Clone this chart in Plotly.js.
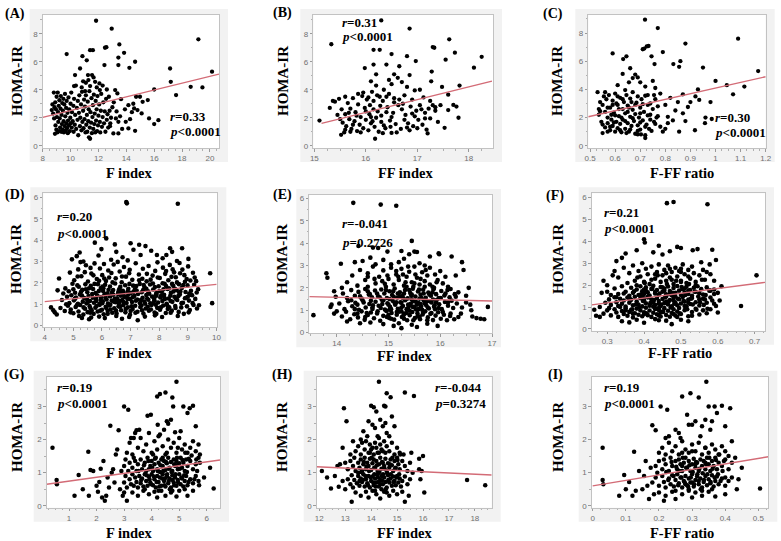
<!DOCTYPE html>
<html><head><meta charset="utf-8">
<script src="https://cdn.plot.ly/plotly-3.0.1.min.js"></script>
<style>html,body{margin:0;padding:0;background:#fff}#chart{width:781px;height:541px}</style>
</head><body><div id="chart"></div>
<script>
// ---------- DATA ----------
const ptsA = [
[11.83,8.93],[12.95,8.36],[19.17,7.6],[13.5,7.24],[12.47,7.0],[12.57,7.04],[13.84,6.64],[11.4,6.83],[11.6,6.83],[9.72,6.55],[10.85,6.4],[11.16,6.1],[13.43,6.3],[14.63,6.0],[10.68,5.52],[12.43,5.76],[13.43,5.76],[14.22,5.57],[17.14,5.52],[20.15,5.29],[17.19,4.57],[16.0,4.02],[17.57,3.62],[18.62,4.21],[19.46,4.17],[10.32,5.05],[11.25,5.05],[11.54,5.05],
[11.28,4.69],[11.76,4.57],[12.07,4.45],[11.88,4.17],[11.4,4.26],[10.8,4.17],[10.25,4.26],[12.1,3.98],[12.6,4.02],[11.04,3.9],[11.65,4.88],[11.1,4.5],[10.9,4.6],[12.3,4.3],
[13.2,3.98],[13.36,3.74],[13.62,3.33],[14.15,2.9],[14.5,3.0],[14.56,2.67],[14.7,3.5],[14.98,3.5],[15.1,2.31],[15.17,3.14],[15.54,3.26],[15.63,1.95],[16.0,1.55],[16.3,1.83],[14.63,1.07],[14.15,1.24],[14.27,1.9],[13.96,1.71],[13.43,0.88],[13.07,0.88],[12.83,1.4],[13.43,1.71],[14.4,2.4],[14.8,2.55],[13.9,2.6],[13.3,2.45],[13.7,1.2],[13.1,3.1],[13.0,2.75],[13.55,2.1],[12.9,2.0],[12.75,3.5],[13.25,1.95],
[8.65,2.55],[8.7,2.95],[8.75,2.3],[8.8,3.8],[8.82,1.95],[8.85,2.75],[8.88,0.85],[8.9,3.1],[8.92,1.45],[8.95,2.6],[8.98,1.15],[9.0,3.5],[9.02,2.05],[9.05,0.95],[9.08,3.8],[9.1,2.4],[9.12,1.7],[9.15,2.85],[9.18,1.05],[9.2,3.25],[9.22,1.95],[9.25,1.3],[9.28,2.65],[9.3,3.55],[9.33,1.0],[9.35,2.2],[9.38,1.55],[9.4,3.05],[9.42,1.15],[9.45,2.5],[9.48,3.35],[9.5,1.75],[9.52,0.95],[9.55,2.95],[9.58,1.4],[9.6,3.7],[9.62,2.1],[9.65,1.1],[9.68,2.7],[9.7,1.6],[9.72,3.2],[9.75,1.25],[9.78,2.35],[9.8,0.9],[9.82,1.8],[9.85,3.45],[9.88,1.45],[9.9,2.6],[9.95,1.05],[9.98,2.0],[10.0,3.0],[10.02,1.6],[10.05,3.8],[10.08,1.3],[10.1,2.4],[10.15,1.75],[10.2,2.85],[10.22,1.0],[10.25,3.35],[10.3,1.5],[10.33,2.2],[10.38,4.3],[10.4,1.2],[10.45,2.7],[10.5,1.85],[10.52,3.2],[10.55,0.75],[10.6,2.35],[10.63,3.6],[10.67,1.4],[10.7,2.0],[10.75,2.95],[10.78,1.1],[10.82,3.85],[10.85,1.7],[10.9,2.5],[10.93,1.25],[10.97,3.3],[11.0,1.9],[11.03,2.8],[11.07,0.95],[11.1,3.6],[11.13,1.5],[11.17,2.2],[11.2,1.0],[11.23,3.15],[11.27,1.75],[11.3,2.6],[11.32,0.6],[11.35,3.9],[11.38,1.3],[11.4,0.5],[11.43,2.4],[11.47,1.65],[11.5,3.4],[11.53,0.9],[11.57,2.05],[11.6,2.9],[11.63,1.2],[11.67,3.65],[11.7,1.55],[11.73,2.3],[11.77,0.95],[11.8,3.2],[11.83,1.8],[11.87,2.6],[11.9,1.05],[11.93,3.55],[11.97,1.45],[12.0,2.15],[12.05,2.95],[12.1,1.7],[12.13,0.95],[12.17,2.5],[12.2,3.7],[12.25,1.35],[12.3,2.05],[12.35,3.1],[12.4,1.6],[12.45,2.45],[12.5,1.0],[12.55,3.35],[12.6,1.85],[12.65,2.25],[12.7,1.3],[12.8,2.5],[12.85,1.6]
];
const ptsB = [
[16.3,8.95],[16.85,8.37],[15.33,7.25],[17.62,7.6],[17.3,7.05],[17.33,7.0],[17.73,6.65],[16.15,6.85],[16.27,6.85],[16.5,6.55],[16.8,6.4],[16.65,5.68],[17.55,6.15],[18.25,6.35],[18.1,5.58],[15.98,5.55],[16.15,5.8],[16.4,5.8],[16.97,6.05],[16.2,5.1],[16.55,5.1],[16.62,4.85],[16.85,5.05],[17.28,5.3],[17.27,4.6],[17.48,4.2],[17.6,3.65],[17.82,4.3],[17.7,2.92],[17.76,2.8],[17.8,2.0],[17.53,1.28],[17.2,0.88],[16.18,0.5],[15.52,0.78],[15.1,1.8],[15.4,3.15],[15.3,2.7],[15.36,3.2],[15.48,3.35],
[16.1,4.6],[16.2,4.3],[16.35,4.0],[16.45,4.7],[16.5,4.4],[16.7,4.55],[16.8,4.2],[16.95,3.95],[17.05,4.0],[17.25,3.2],[17.3,2.9],[17.35,2.5],[17.4,1.7],[17.25,1.95],[17.15,2.35],[17.1,1.5],[17.05,2.9],[16.95,2.1],[16.9,3.3],[16.85,1.1],[16.8,1.3],[16.75,3.6],[16.7,2.6],[16.6,0.95],[16.55,3.1],[16.5,2.05],[16.5,0.92],[16.45,3.7],[16.4,2.4],[16.38,1.25],[16.33,3.2],[16.3,1.7],[16.28,2.85],[16.25,1.0],[16.22,3.6],[16.2,2.0],[16.17,1.35],[16.15,2.6],[16.12,3.85],[16.1,1.6],[16.07,2.25],[16.05,1.1],[16.02,3.3],[16.0,1.85],[15.98,2.7],[15.95,1.25],[15.93,3.55],[15.9,2.05],[15.88,1.5],[15.85,2.95],[15.83,1.05],[15.8,2.4],[15.78,1.75],[15.75,3.4],[15.72,1.2],[15.7,2.65],[15.68,1.9],[15.65,3.05],[15.62,1.4],[15.6,2.25],[15.58,0.95],[15.55,1.65],[15.53,2.6],[15.5,1.9],[15.6,3.5],[15.7,1.0],[15.85,3.7],[15.95,3.8],[16.0,2.45],[16.08,2.9],[16.13,1.75],[16.23,2.45],[16.27,3.5],[16.35,1.45],[16.42,2.75],[16.47,1.8],[16.53,2.35],[16.58,1.55],[16.63,2.9],[16.68,1.2],[16.72,3.0],[16.77,2.2],[16.82,1.6],[16.87,2.8],[16.92,1.4],[16.98,2.5],[17.02,1.85],[17.08,2.6],[17.12,3.45],[17.18,1.15],[17.22,2.65],[15.45,2.2],[15.6,1.15],[15.75,1.5],[15.9,0.95],[16.05,3.45],[16.15,3.2],[16.3,2.15],[16.4,3.5],[16.55,3.4],[16.65,3.3],[16.75,1.85],[16.9,2.3],[17.0,1.25],[17.35,2.75],[17.45,2.9],[17.6,2.55],[17.15,1.95],[16.48,1.35],[16.33,0.9],[16.1,2.05],[15.82,2.15],[15.67,2.35]
];
const ptsC = [
[0.719,8.95],[0.77,8.35],[1.09,7.6],[0.88,7.25],[0.71,6.85],[0.716,6.9],[0.726,7.05],[0.733,7.08],[0.79,6.65],[0.59,6.55],[0.645,6.35],[0.632,6.15],[0.745,6.35],[0.757,5.8],[0.832,5.8],[0.86,6.0],[0.855,5.6],[0.95,5.55],[1.17,5.3],[1.0,4.6],[1.045,4.3],[1.115,4.2],[1.07,3.65],[0.93,4.0],[0.92,3.5],[0.935,3.25],[0.985,1.9],[0.958,1.6],[0.918,1.1],[0.87,2.3],[0.855,1.0],[0.79,1.0],[0.8,1.2],[0.72,0.55],[0.703,0.8],[0.69,0.8],
[0.82,3.4],[0.84,2.5],[0.85,3.1],[0.87,3.65],[0.89,2.75],[0.9,3.1],[0.88,1.75],[0.83,1.8],[0.81,2.05],[0.8,2.9],[0.78,3.7],[0.77,2.1],[0.76,4.1],[0.75,4.6],[0.74,3.0],[0.74,2.2],[0.76,1.55],[0.78,1.35],[0.81,1.6],[0.96,2.0],[0.98,3.1],[0.72,4.2],[0.7,4.5],[0.68,5.05],[0.69,4.85],[0.66,5.5],[0.63,5.1],[0.655,4.5],[0.67,4.8],[0.61,4.3],[0.64,3.95],
[0.53,3.8],[0.535,2.6],[0.54,3.1],[0.535,2.2],[0.545,1.7],[0.55,0.9],[0.55,2.9],[0.555,3.5],[0.56,1.3],[0.56,2.4],[0.565,3.3],[0.57,1.6],[0.57,2.0],[0.575,3.6],[0.58,1.1],[0.58,2.7],[0.585,1.85],[0.59,3.2],[0.59,1.4],[0.595,2.35],[0.6,1.0],[0.6,3.7],[0.605,1.7],[0.61,2.9],[0.61,1.25],[0.615,2.1],[0.62,3.4],[0.62,1.55],[0.625,0.95],[0.63,2.6],[0.63,1.85],[0.635,3.1],[0.64,1.2],[0.64,2.3],[0.645,3.6],[0.65,1.6],[0.65,2.85],[0.655,1.0],[0.66,2.05],[0.66,3.35],[0.665,1.4],[0.67,2.55],[0.67,3.8],[0.675,1.75],[0.68,0.85],[0.68,2.25],[0.685,3.05],[0.69,1.45],[0.69,3.5],[0.695,2.0],[0.7,2.7],[0.7,1.15],[0.705,3.3],[0.71,1.8],[0.715,2.4],[0.72,0.75],[0.72,3.55],[0.725,1.5],[0.73,2.15],[0.73,2.9],[0.735,1.2],[0.74,1.85],[0.75,2.6],[0.755,1.7],[0.76,3.3],[0.765,2.0],[0.77,2.8],[0.54,2.45],[0.55,1.5],[0.56,3.8],[0.57,2.7],[0.58,1.35],[0.59,2.9],[0.6,2.15],[0.61,3.5],[0.62,1.1],[0.63,3.3],[0.64,1.75],[0.65,2.4],[0.66,1.15],[0.67,1.95],[0.68,2.9],[0.69,1.05],[0.7,1.65],[0.71,2.95],[0.72,1.35],[0.73,3.6],[0.57,1.0],[0.595,1.65],[0.615,2.6],[0.645,0.9],[0.665,3.1],[0.7,2.3],[0.745,1.05],[0.755,3.6],[0.585,2.2],[0.605,3.0],[0.625,2.0],[0.655,2.7]
];
const ptsD = [
[6.85,5.78],[6.87,5.72],[8.65,5.7],[9.78,2.45],[9.85,1.05],[4.22,0.85],[4.35,0.62],[4.45,1.65],[4.5,2.2],[4.42,0.52],[4.3,0.72],
[5.75,3.88],[6.15,4.08],[6.45,3.8],[7.3,3.78],[7.52,3.72],[5.98,3.58],[7.1,3.55],[8.38,3.62],[8.8,3.62],[7.72,3.5],[5.22,3.42],[4.95,3.1],[5.12,3.25],[6.72,3.2],[7.35,3.3],[8.45,3.45],[9.02,3.12],[7.92,3.3],[6.32,3.08],[5.88,3.28],[8.12,3.15],[5.35,3.0],[6.9,3.05],[8.62,3.02],[6.5,3.45],[8.25,3.3],[7.0,3.85],
[4.88,2.48],[5.03,2.12],[5.17,2.63],[5.28,2.31],[5.44,2.82],[5.51,2.06],[5.63,2.44],[5.74,2.91],[5.82,2.18],[5.93,2.67],[6.01,2.36],[6.07,2.88],[6.14,2.09],[6.22,2.58],[6.33,2.46],[6.41,2.86],[6.48,2.21],[6.62,2.53],[6.69,2.03],[6.77,2.74],[6.84,2.29],[6.97,2.61],[7.06,2.14],[7.18,2.92],[7.29,2.39],[7.43,2.66],[7.56,2.07],[7.63,2.79],[7.77,2.34],[7.86,2.56],[7.94,2.96],[8.02,2.23],[8.13,2.71],[8.21,2.42],[8.32,2.12],[8.37,2.84],[8.52,2.49],[8.58,2.26],[8.71,2.93],[8.81,2.62],[8.88,2.36],[9.01,2.77],[9.09,2.11],[9.18,2.47],[5.25,2.97],[6.55,2.98],[7.41,2.19],[8.47,2.63],[5.9,2.1],[6.25,2.25],[6.95,2.45],[7.7,2.15],[8.9,2.05],[5.6,2.7],
[4.72,1.74],[4.84,1.61],[4.97,1.96],[5.06,1.54],[5.19,1.82],[5.31,1.67],[5.42,1.93],[5.49,1.56],[5.61,1.86],[5.69,1.71],[5.78,1.52],[5.86,1.94],[5.96,1.76],[6.04,1.62],[6.11,1.91],[6.19,1.51],[6.28,1.83],[6.39,1.66],[6.46,1.97],[6.57,1.57],[6.64,1.81],[6.73,1.63],[6.81,1.89],[6.92,1.72],[7.01,1.53],[7.09,1.87],[7.21,1.64],[7.32,1.95],[7.39,1.56],[7.49,1.79],[7.61,1.61],[7.68,1.92],[7.79,1.69],[7.91,1.52],[7.98,1.84],[8.09,1.58],[8.19,1.96],[8.29,1.71],[8.41,1.54],[8.49,1.86],[8.61,1.66],[8.69,1.94],[8.79,1.76],[8.92,1.57],[8.99,1.88],[9.11,1.63],[9.22,1.91],[9.36,1.7],[9.29,2.08],[5.14,1.88],[6.02,1.83],[6.68,1.54],[7.46,1.9],[8.24,1.85],[8.74,1.59],[5.55,1.75],[6.35,1.55],[7.15,1.7],[7.85,1.8],[8.55,1.72],[9.05,1.5],
[4.6,1.2],[4.78,1.35],[4.86,1.05],[4.93,1.42],[5.02,1.18],[5.09,1.31],[5.16,1.02],[5.23,1.46],[5.33,1.12],[5.38,1.29],[5.46,1.04],[5.53,1.38],[5.58,1.15],[5.66,1.48],[5.72,1.07],[5.79,1.26],[5.84,1.41],[5.91,1.01],[5.97,1.33],[6.03,1.14],[6.09,1.47],[6.16,1.22],[6.21,1.03],[6.27,1.37],[6.34,1.17],[6.4,1.44],[6.47,1.09],[6.53,1.28],[6.59,1.02],[6.66,1.4],[6.71,1.19],[6.78,1.34],[6.86,1.06],[6.93,1.45],[6.99,1.24],[7.05,1.1],[7.13,1.39],[7.19,1.16],[7.26,1.48],[7.33,1.05],[7.42,1.3],[7.48,1.13],[7.55,1.43],[7.62,1.21],[7.69,1.04],[7.75,1.36],[7.83,1.18],[7.89,1.47],[7.96,1.08],[8.04,1.32],[8.11,1.15],[8.17,1.44],[8.26,1.02],[8.33,1.27],[8.39,1.4],[8.46,1.11],[8.53,1.35],[8.63,1.2],[8.72,1.46],[8.83,1.07],[8.94,1.3],[9.04,1.17],[9.15,1.42],[9.26,1.25],[5.48,1.22],[6.12,1.3],[6.62,1.15],[7.08,1.33],[7.58,1.27],[8.07,1.41],[8.58,1.26],[5.95,1.2],[6.45,1.25],[6.85,1.36],[7.36,1.2],[7.8,1.05],[8.2,1.25],[5.3,1.4],[6.75,1.1],
[4.55,0.82],[4.7,0.68],[4.81,0.93],[4.91,0.75],[5.0,0.58],[5.08,0.87],[5.18,0.66],[5.24,0.96],[5.35,0.52],[5.41,0.79],[5.5,0.63],[5.57,0.91],[5.64,0.71],[5.71,0.55],[5.77,0.84],[5.85,0.66],[5.92,0.97],[6.0,0.74],[6.06,0.53],[6.13,0.88],[6.2,0.69],[6.26,0.94],[6.36,0.6],[6.43,0.81],[6.51,0.57],[6.58,0.9],[6.67,0.72],[6.74,0.95],[6.82,0.62],[6.9,0.85],[6.98,0.51],[7.07,0.78],[7.16,0.93],[7.24,0.65],[7.34,0.87],[7.45,0.56],[7.53,0.8],[7.64,0.7],[7.73,0.96],[7.84,0.61],[7.93,0.83],[8.03,0.74],[8.14,0.94],[8.23,0.59],[8.35,0.86],[8.44,0.7],[8.56,0.92],[8.68,0.64],[8.77,0.85],[8.86,0.55],[8.97,0.9],[9.07,0.73],[9.2,0.96],[9.32,0.8],[5.6,0.8],[6.3,0.75],[7.0,0.68],[7.6,0.88],[8.3,0.78],[5.2,0.45],
[5.55,0.3],[5.62,0.38],[5.9,0.42],[6.1,0.35],[6.5,0.45],[6.95,0.4],[7.25,0.25],[7.5,0.42],[7.85,0.48],[8.1,0.4],[8.65,0.45],[5.3,0.36],[6.7,0.32],
[5.05,1.25],[5.12,0.95],[5.27,1.58],[5.36,0.85],[5.44,1.7],[5.52,1.12],[5.59,0.6],[5.68,1.3],[5.74,1.95],[5.81,0.92],[5.89,1.62],[5.94,0.7],[6.01,1.05],[6.08,2.2],[6.15,0.82],[6.23,1.68],[6.29,0.98],[6.37,2.02],[6.42,1.12],[6.49,0.7],[6.56,1.48],[6.63,0.88],[6.7,2.3],[6.76,1.52],[6.83,0.78],[6.89,1.25],[6.96,1.95],[7.03,0.9],[7.11,1.58],[7.17,0.6],[7.23,1.22],[7.3,2.12],[7.38,0.94],[7.44,1.66],[7.51,1.02],[7.57,2.42],[7.65,1.49],[7.71,0.75],[7.78,1.97],[7.82,1.28],[7.88,0.98],[7.95,2.25],[8.01,1.62],[8.06,0.86],[8.12,1.98],[8.18,1.3],[8.24,2.55],[8.28,0.95],[8.34,1.75],[8.4,1.15],[8.43,2.28],[8.5,1.6],[8.57,0.82],[8.62,2.02],[8.67,1.38],[8.73,2.45],[8.78,1.05],[8.84,1.9],[8.9,1.28],[8.96,2.18],[9.03,0.62],[9.1,1.45],[9.17,1.05],[9.24,2.25],[9.31,1.55],[9.39,0.95],[5.0,1.7],[5.15,2.3],[5.4,2.5],[5.7,2.35],[6.05,1.75],[6.3,1.38],[6.6,1.7],[6.9,1.6],[7.2,1.85],[7.55,1.72],[7.9,1.4],[8.15,1.7],[8.45,1.95],[8.7,1.55],[9.0,1.35],[4.75,1.0],[4.9,0.62],[4.65,1.5],[7.4,0.72],[7.9,0.55],[8.4,0.6],[6.2,0.55],[5.8,1.15],[6.55,1.12]
];
const ptsE = [
[14.32,5.8],[14.85,5.72],[15.15,5.67],[14.42,3.87],[14.7,3.8],[14.8,3.78],[15.45,4.1],[14.08,3.08],[13.8,2.65],[13.82,2.45],[13.55,0.78],[16.92,1.15],[16.85,0.6],[16.78,0.62],[16.7,0.65],[16.62,0.72],[16.58,1.25],[16.5,1.35],[16.45,2.8],[16.42,3.15],[16.22,3.4],[15.97,3.55],[15.55,3.6],[15.5,3.62],[15.25,3.65],[14.98,3.62],[13.9,1.25],[13.95,1.85],[14.0,0.95],[16.3,2.55],[16.55,2.0],[16.5,1.65],[16.35,1.8],[16.2,1.95],[16.25,1.1],[16.4,0.85],[16.6,1.0],
[14.5,3.2],[14.65,3.35],[14.9,3.25],[15.05,3.05],[15.3,3.3],[15.6,3.1],[15.8,3.4],[15.98,3.5],[15.4,3.5],[14.35,3.15],[15.7,3.0],[14.75,3.05],[15.2,3.15],
[14.2,2.25],[14.3,2.55],[14.4,2.1],[14.45,2.8],[14.55,2.35],[14.6,2.65],[14.7,2.95],[14.75,2.2],[14.82,2.5],[14.9,2.78],[14.95,2.05],[15.0,2.4],[15.05,2.9],[15.1,2.15],[15.15,2.6],[15.2,2.35],[15.25,2.85],[15.3,2.1],[15.35,2.5],[15.4,2.72],[15.45,2.25],[15.5,2.95],[15.55,2.45],[15.6,2.15],[15.65,2.7],[15.7,2.3],[15.75,2.55],[15.8,2.9],[15.85,2.05],[15.9,2.6],[15.95,2.35],[16.0,2.75],[16.05,2.2],[16.1,2.5],[16.15,2.05],[14.1,2.0],[14.6,2.05],[15.28,2.6],[15.48,2.05],[14.98,2.55],[15.72,2.8],[15.38,2.95],[14.88,2.3],
[13.98,1.6],[14.12,1.75],[14.2,1.55],[14.28,1.9],[14.35,1.65],[14.42,1.82],[14.48,1.52],[14.55,1.95],[14.62,1.7],[14.68,1.58],[14.74,1.88],[14.8,1.62],[14.86,1.93],[14.92,1.75],[14.97,1.55],[15.02,1.85],[15.07,1.68],[15.12,1.97],[15.17,1.57],[15.22,1.8],[15.27,1.64],[15.32,1.9],[15.37,1.53],[15.42,1.77],[15.47,1.96],[15.52,1.61],[15.57,1.84],[15.62,1.7],[15.67,1.92],[15.72,1.56],[15.77,1.79],[15.82,1.65],[15.87,1.94],[15.92,1.72],[15.97,1.54],[16.02,1.86],[16.08,1.66],[16.14,1.9],[16.18,1.58],[16.28,1.72],[14.6,1.85],[15.1,1.6],[15.45,1.7],[15.85,1.8],[14.95,1.9],[15.3,1.75],[15.6,1.52],
[13.88,1.15],[14.05,1.3],[14.15,1.05],[14.22,1.4],[14.3,1.18],[14.36,1.33],[14.43,1.02],[14.5,1.45],[14.56,1.12],[14.63,1.28],[14.69,1.06],[14.75,1.38],[14.81,1.2],[14.87,1.47],[14.93,1.03],[14.98,1.31],[15.03,1.15],[15.08,1.42],[15.13,1.25],[15.18,1.07],[15.23,1.36],[15.28,1.19],[15.33,1.48],[15.38,1.1],[15.43,1.29],[15.48,1.4],[15.53,1.04],[15.58,1.32],[15.63,1.17],[15.68,1.44],[15.73,1.22],[15.78,1.08],[15.83,1.35],[15.88,1.16],[15.93,1.46],[15.98,1.27],[16.03,1.05],[16.09,1.37],[16.15,1.2],[16.22,1.43],[16.32,1.3],[16.42,1.12],[14.7,1.22],[15.0,1.25],[15.25,1.33],[15.4,1.2],[15.55,1.25],[15.7,1.3],[15.9,1.05],[14.4,1.25],[15.15,1.35],[15.35,1.05],[15.65,1.02],[15.8,1.4],[14.85,1.1],[15.5,1.15],
[13.95,0.85],[14.1,0.72],[14.18,0.93],[14.26,0.6],[14.34,0.82],[14.41,0.68],[14.48,0.95],[14.54,0.57],[14.6,0.79],[14.66,0.9],[14.72,0.64],[14.78,0.86],[14.84,0.53],[14.9,0.75],[14.96,0.97],[15.01,0.66],[15.06,0.88],[15.11,0.58],[15.16,0.8],[15.21,0.94],[15.26,0.7],[15.31,0.85],[15.36,0.55],[15.41,0.78],[15.46,0.92],[15.51,0.65],[15.56,0.87],[15.61,0.6],[15.66,0.81],[15.71,0.95],[15.76,0.68],[15.81,0.84],[15.86,0.56],[15.91,0.76],[15.96,0.91],[16.01,0.62],[16.07,0.8],[16.13,0.55],[16.19,0.74],[16.27,0.6],[16.35,0.7],[14.2,0.5],[15.3,0.62],[15.6,0.72],[15.0,0.8],
[14.65,0.45],[14.9,0.38],[15.1,0.3],[15.2,0.42],[15.45,0.35],[15.55,0.25],[15.75,0.4],[15.95,0.3],[15.25,0.2],[14.45,0.42],
[14.52,1.35],[14.58,0.88],[14.64,1.72],[14.69,1.12],[14.73,2.4],[14.79,0.95],[14.83,1.58],[14.88,1.28],[14.93,2.18],[14.97,0.7],[15.02,1.5],[15.05,1.05],[15.09,1.85],[15.12,1.32],[15.16,0.92],[15.19,2.5],[15.22,1.62],[15.25,1.12],[15.29,0.78],[15.32,1.45],[15.35,2.05],[15.38,1.25],[15.41,0.98],[15.44,1.65],[15.47,1.15],[15.5,2.2],[15.53,1.38],[15.56,0.72],[15.59,1.92],[15.62,1.28],[15.64,1.55],[15.67,0.9],[15.7,2.05],[15.73,1.38],[15.76,1.12],[15.79,1.7],[15.83,0.88],[15.86,1.48],[15.89,1.22],[15.93,2.25],[15.97,1.1],[16.01,1.55],[16.05,0.92],[16.1,1.75],[14.45,1.62],[14.35,1.05],[14.28,1.45],[14.6,2.5],[15.15,2.75],[15.4,1.9],[15.8,2.15],[16.2,0.85],[15.05,0.62],[15.35,0.88],[15.58,1.05],[15.28,1.55],[14.9,1.45],[15.48,0.55],[15.75,0.55],[15.92,1.35],[14.66,1.42],[15.18,1.75],[15.45,1.48],[15.68,1.75],[15.02,1.02],[14.78,1.75],[15.33,2.25],[15.52,2.6],[15.25,0.95],[15.62,2.4],[15.88,2.0],[14.55,0.7],[14.4,0.85],[16.15,1.35],[16.3,1.6]
];
const ptsF = [
[0.462,5.75],[0.48,5.8],[0.572,5.7],[0.705,2.45],[0.663,1.05],[0.4,4.1],[0.402,3.95],[0.44,3.8],[0.49,3.75],[0.5,3.7],[0.532,3.6],[0.585,3.62],[0.595,3.15],[0.38,3.6],[0.27,0.6],[0.28,0.55],[0.265,0.88],[0.285,1.65],[0.29,2.2],[0.3,2.0],[0.305,0.95],[0.315,2.45],[0.325,3.1],[0.34,3.25],[0.35,3.45],[0.32,2.65],[0.61,1.95],[0.6,1.65],[0.605,1.3],[0.6,0.75],[0.595,1.05],[0.578,2.95],[0.57,2.6],[0.555,3.05],[0.545,3.65],[0.47,3.55],[0.425,3.5],[0.45,3.4],
[0.33,2.35],[0.345,2.8],[0.355,2.1],[0.36,2.55],[0.37,2.9],[0.375,2.2],[0.385,2.65],[0.39,2.4],[0.395,3.0],[0.4,2.15],[0.405,2.75],[0.41,2.5],[0.415,2.05],[0.42,2.85],[0.43,2.3],[0.435,2.6],[0.44,2.95],[0.445,2.15],[0.45,2.45],[0.455,2.7],[0.46,2.2],[0.465,2.9],[0.47,2.35],[0.475,2.6],[0.48,2.05],[0.485,2.8],[0.49,2.4],[0.495,2.65],[0.5,2.2],[0.505,2.95],[0.51,2.5],[0.515,2.1],[0.52,2.7],[0.525,2.3],[0.53,2.85],[0.535,2.55],[0.54,2.15],[0.55,2.45],[0.56,2.7],[0.565,2.25],[0.58,2.5],[0.59,2.2],[0.38,2.0],[0.46,2.55],[0.5,2.75],[0.42,2.25],
[0.3,1.7],[0.31,1.55],[0.32,1.85],[0.33,1.6],[0.34,1.95],[0.35,1.7],[0.36,1.52],[0.365,1.88],[0.37,1.65],[0.38,1.8],[0.385,1.55],[0.39,1.95],[0.395,1.72],[0.4,1.6],[0.405,1.9],[0.41,1.68],[0.415,1.53],[0.42,1.83],[0.425,1.97],[0.43,1.62],[0.435,1.78],[0.44,1.56],[0.445,1.92],[0.45,1.7],[0.455,1.85],[0.46,1.58],[0.465,1.94],[0.47,1.73],[0.475,1.54],[0.48,1.87],[0.485,1.65],[0.49,1.96],[0.495,1.75],[0.5,1.55],[0.505,1.82],[0.51,1.66],[0.515,1.93],[0.52,1.6],[0.525,1.78],[0.53,1.52],[0.535,1.88],[0.54,1.7],[0.545,1.95],[0.55,1.63],[0.555,1.82],[0.56,1.57],[0.57,1.9],[0.58,1.75],[0.59,1.6],[0.43,1.7],[0.47,1.6],[0.51,1.85],[0.4,1.8],
[0.28,1.0],[0.295,1.2],[0.305,1.35],[0.31,1.1],[0.32,1.45],[0.325,1.22],[0.33,1.05],[0.335,1.38],[0.34,1.15],[0.345,1.3],[0.35,1.02],[0.355,1.44],[0.36,1.2],[0.365,1.33],[0.37,1.08],[0.375,1.47],[0.38,1.25],[0.385,1.12],[0.39,1.4],[0.395,1.03],[0.4,1.3],[0.405,1.17],[0.41,1.45],[0.415,1.06],[0.42,1.35],[0.425,1.23],[0.43,1.1],[0.435,1.42],[0.44,1.28],[0.445,1.05],[0.45,1.37],[0.455,1.18],[0.46,1.48],[0.465,1.12],[0.47,1.32],[0.475,1.03],[0.48,1.43],[0.485,1.21],[0.49,1.08],[0.495,1.36],[0.5,1.16],[0.505,1.46],[0.51,1.25],[0.515,1.04],[0.52,1.34],[0.525,1.14],[0.53,1.41],[0.54,1.22],[0.55,1.07],[0.56,1.38],[0.57,1.2],[0.58,1.44],[0.59,1.15],[0.42,1.2],[0.44,1.15],[0.46,1.25],[0.48,1.3],[0.4,1.4],[0.36,1.4],[0.52,1.2],
[0.29,0.7],[0.3,0.85],[0.31,0.62],[0.32,0.9],[0.325,0.75],[0.33,0.55],[0.34,0.82],[0.345,0.68],[0.35,0.95],[0.355,0.6],[0.36,0.78],[0.365,0.88],[0.37,0.52],[0.375,0.72],[0.38,0.93],[0.385,0.65],[0.39,0.85],[0.395,0.58],[0.4,0.76],[0.405,0.97],[0.41,0.63],[0.415,0.84],[0.42,0.55],[0.425,0.74],[0.43,0.91],[0.435,0.67],[0.44,0.87],[0.445,0.57],[0.45,0.79],[0.455,0.95],[0.46,0.64],[0.465,0.83],[0.47,0.56],[0.475,0.73],[0.48,0.9],[0.485,0.61],[0.49,0.8],[0.495,0.96],[0.5,0.68],[0.51,0.86],[0.52,0.58],[0.53,0.77],[0.54,0.92],[0.55,0.66],[0.56,0.85],[0.57,0.72],[0.58,0.9],[0.445,0.75],[0.4,0.68],
[0.34,0.35],[0.36,0.3],[0.38,0.42],[0.4,0.28],[0.43,0.45],[0.46,0.38],[0.475,0.22],[0.5,0.42],[0.52,0.35],[0.44,0.4],
[0.362,1.35],[0.368,0.9],[0.373,1.72],[0.378,1.12],[0.382,2.35],[0.387,0.98],[0.392,1.58],[0.397,1.28],[0.402,2.1],[0.407,0.72],[0.412,1.5],[0.417,1.18],[0.422,1.85],[0.427,1.32],[0.432,0.92],[0.437,2.45],[0.442,1.62],[0.447,1.12],[0.452,0.78],[0.457,1.45],[0.462,2.05],[0.467,1.25],[0.472,0.98],[0.477,1.65],[0.482,1.15],[0.487,2.2],[0.492,1.38],[0.497,0.72],[0.502,1.92],[0.507,1.28],[0.512,1.55],[0.517,0.9],[0.522,2.05],[0.527,1.38],[0.532,1.12],[0.537,1.7],[0.542,0.88],[0.547,1.48],[0.552,1.22],[0.557,2.25],[0.562,1.1],[0.567,1.55],[0.572,0.92],[0.577,1.75],[0.345,1.62],[0.335,1.0],[0.325,1.45],[0.43,2.5],[0.47,2.75],[0.45,1.9],[0.5,2.15],[0.585,1.3],[0.44,0.62],[0.48,0.68],[0.51,1.05],[0.46,1.55],[0.41,1.45],[0.49,0.55],[0.53,0.6],[0.55,1.35],[0.395,1.42],[0.455,1.75],[0.485,1.48],[0.52,1.75],[0.425,1.02],[0.405,1.75],[0.475,2.25],[0.5,2.6],[0.44,0.95],[0.52,2.4],[0.54,2.0],[0.37,0.7],[0.35,0.85],[0.565,1.35],[0.59,1.8]
];
const ptsG = [
[0.4,1.75],[0.55,0.78],[0.56,0.65],[1.2,0.3],[1.35,0.93],[1.5,0.5],[1.7,1.63],[1.72,0.3],[1.78,1.08],[1.88,1.05],[2.0,0.6],[2.05,0.42],[2.1,0.72],[2.15,1.12],[2.25,1.35],[2.3,0.15],[2.2,0.25],[2.5,2.42],[2.8,2.28],[3.0,3.0],[3.15,2.9],[3.35,2.05],[3.4,2.2],[3.45,2.28],[3.55,2.3],[3.85,2.72],[3.97,2.75],[4.2,3.3],[4.3,3.38],[4.5,3.42],[4.75,3.27],[4.78,3.0],[4.9,3.75],[5.15,3.0],[5.38,2.95],[5.5,3.02],[5.3,2.8],[5.6,2.4],[4.55,2.55],[4.6,2.48],[4.7,2.6],[4.22,2.45],[4.85,2.22],[5.05,2.25],[6.25,0.52],[6.12,1.15],[5.9,0.85],[2.4,0.85],[2.45,0.55],[2.55,1.0],[2.6,1.1],[2.65,0.7],[2.35,0.3],[2.7,1.55],[2.75,1.7],[2.85,0.5],[2.9,1.05],[2.95,0.3],
[3.1,1.6],[3.2,1.9],[3.3,1.55],[3.5,1.75],[3.6,2.05],[3.7,1.65],[3.8,1.85],[3.9,2.2],[4.0,1.6],[4.1,1.95],[4.2,1.7],[4.3,2.15],[4.4,1.8],[4.5,1.55],[4.6,2.0],[4.7,1.75],[4.8,1.9],[4.9,1.6],[5.0,2.05],[5.1,1.7],[5.2,1.85],[5.3,1.6],[5.4,1.75],[5.5,1.95],[5.6,1.65],[5.7,1.85],[5.75,1.55],[4.45,2.3],[4.25,2.1],[3.25,2.05],
[3.0,1.2],[3.05,1.4],[3.15,1.05],[3.2,1.3],[3.3,1.15],[3.35,1.45],[3.45,1.05],[3.5,1.25],[3.6,1.4],[3.65,1.1],[3.75,1.3],[3.8,1.05],[3.85,1.45],[3.95,1.2],[4.0,1.35],[4.05,1.05],[4.1,1.25],[4.15,1.45],[4.2,1.1],[4.25,1.3],[4.3,1.02],[4.35,1.4],[4.4,1.2],[4.45,1.35],[4.5,1.08],[4.55,1.28],[4.6,1.45],[4.65,1.15],[4.7,1.32],[4.75,1.05],[4.8,1.4],[4.85,1.2],[4.9,1.35],[4.95,1.1],[5.0,1.28],[5.05,1.45],[5.1,1.15],[5.15,1.3],[5.2,1.05],[5.25,1.4],[5.3,1.2],[5.4,1.35],[5.5,1.1],[5.6,1.25],[5.7,1.45],[5.75,1.3],[5.65,1.05],[3.4,1.35],[3.9,1.1],[4.4,1.45],[4.9,1.22],[5.35,1.42],
[3.0,0.7],[3.05,0.9],[3.1,0.55],[3.2,0.8],[3.25,0.65],[3.3,0.95],[3.35,0.6],[3.4,0.85],[3.45,0.72],[3.5,0.55],[3.55,0.9],[3.6,0.68],[3.65,0.82],[3.7,0.58],[3.75,0.95],[3.8,0.75],[3.85,0.6],[3.9,0.88],[3.95,0.7],[4.0,0.95],[4.05,0.62],[4.1,0.8],[4.15,0.55],[4.2,0.9],[4.25,0.72],[4.3,0.85],[4.35,0.6],[4.4,0.95],[4.45,0.75],[4.5,0.58],[4.55,0.88],[4.6,0.68],[4.65,0.82],[4.7,0.55],[4.75,0.92],[4.8,0.7],[4.85,0.85],[4.9,0.6],[4.95,0.78],[5.0,0.95],[5.05,0.65],[5.1,0.82],[5.15,0.58],[5.2,0.75],[5.25,0.9],[5.3,0.62],[5.4,0.8],[5.5,0.68],[5.6,0.9],[5.7,0.75],[4.62,0.75],[4.82,0.62],[4.48,0.82],[3.92,0.8],
[3.0,0.4],[3.1,0.15],[3.3,0.4],[3.5,0.3],[3.7,0.45],[3.9,0.35],[4.1,0.42],[4.2,0.25],[4.35,0.45],[4.5,0.3],[4.7,0.4],[4.9,0.28],[5.0,0.45],[5.3,0.3],[5.5,0.45],
[3.52,1.05],[3.62,0.78],[3.72,1.22],[3.82,0.92],[3.88,1.35],[3.98,0.65],[4.02,1.15],[4.08,0.88],[4.12,1.42],[4.18,0.72],[4.22,1.05],[4.28,0.58],[4.32,1.22],[4.38,0.82],[4.42,1.05],[4.46,0.62],[4.52,1.32],[4.56,0.95],[4.62,1.12],[4.66,0.5],[4.72,1.02],[4.76,0.78],[4.82,1.25],[4.86,0.95],[4.92,1.45],[4.96,0.7],[5.02,1.12],[5.08,0.85],[5.12,1.38],[5.18,0.92],[5.22,1.6],[5.28,1.02],[5.34,0.72],[5.45,1.52],[5.55,0.8],[5.62,1.4],[5.72,0.62],[4.05,1.55],[4.55,1.6],[4.95,1.75],[3.75,0.5],[4.25,0.45],[4.75,0.45],[5.2,0.5]
];
const ptsH = [
[17.7,0.78],[18.4,0.62],[12.1,1.05],[12.3,0.85],[12.45,0.52],[12.6,0.9],[12.75,0.57],[12.8,1.25],[12.9,1.75],[12.95,2.95],[13.05,2.55],[14.3,3.75],[14.6,3.4],[14.75,3.28],[15.3,3.42],[15.65,3.32],[14.55,3.0],[14.5,3.02],[14.0,3.02],[14.1,2.98],[14.2,2.85],[15.3,0.12],[13.25,0.12],[15.9,0.8],[16.05,0.4],[16.0,1.5],[15.85,1.42],[15.55,1.6],[12.7,1.2],[12.9,0.75],[13.0,1.3],[13.0,0.5],[15.95,1.05],[15.85,1.1],[15.6,1.0],
[13.7,2.25],[13.85,2.1],[13.9,2.55],[14.05,2.45],[14.15,2.35],[14.25,2.1],[14.35,2.6],[14.45,2.4],[14.6,2.2],[14.8,2.7],[14.9,2.4],[14.3,2.05],[13.6,2.0],[14.55,2.5],[14.7,2.1],
[13.4,1.65],[13.5,1.8],[13.6,1.55],[13.65,1.9],[13.75,1.7],[13.8,1.95],[13.9,1.6],[13.95,1.85],[14.0,1.7],[14.1,1.55],[14.15,1.9],[14.2,1.75],[14.3,1.6],[14.35,1.85],[14.4,1.7],[14.5,1.95],[14.55,1.6],[14.6,1.8],[14.7,1.65],[14.8,1.9],[14.9,1.55],[15.0,1.75],[15.1,1.6],[15.25,1.55],[13.2,1.55],[13.3,1.95],
[13.1,1.1],[13.2,1.35],[13.3,1.2],[13.35,1.45],[13.4,1.05],[13.5,1.3],[13.55,1.15],[13.6,1.4],[13.65,1.05],[13.7,1.25],[13.75,1.45],[13.8,1.1],[13.85,1.3],[13.9,1.2],[13.95,1.42],[14.0,1.08],[14.05,1.28],[14.1,1.4],[14.15,1.15],[14.2,1.35],[14.25,1.05],[14.3,1.25],[14.35,1.45],[14.4,1.12],[14.45,1.3],[14.5,1.2],[14.55,1.42],[14.6,1.05],[14.65,1.28],[14.7,1.15],[14.75,1.4],[14.8,1.22],[14.85,1.05],[14.9,1.35],[14.95,1.15],[15.0,1.45],[15.05,1.25],[15.1,1.1],[15.2,1.35],[15.3,1.2],[15.4,1.05],[15.5,1.3],
[13.1,0.8],[13.2,0.65],[13.25,0.92],[13.3,0.55],[13.35,0.78],[13.45,0.68],[13.5,0.9],[13.55,0.6],[13.6,0.82],[13.65,0.72],[13.7,0.95],[13.75,0.58],[13.8,0.8],[13.85,0.68],[13.9,0.9],[13.95,0.55],[14.0,0.75],[14.05,0.88],[14.1,0.62],[14.15,0.82],[14.2,0.7],[14.25,0.95],[14.3,0.58],[14.35,0.78],[14.4,0.9],[14.45,0.65],[14.5,0.85],[14.55,0.72],[14.6,0.55],[14.65,0.92],[14.7,0.7],[14.75,0.82],[14.8,0.6],[14.85,0.88],[14.9,0.75],[14.95,0.62],[15.0,0.9],[15.05,0.7],[15.1,0.82],[15.15,0.58],[15.2,0.75],[15.3,0.88],[15.4,0.65],[15.5,0.8],[14.28,0.72],[14.42,0.76],[14.12,0.95],
[13.4,0.4],[13.6,0.3],[13.8,0.42],[13.9,0.25],[14.05,0.45],[14.2,0.35],[14.35,0.22],[14.5,0.42],[14.7,0.3],[14.85,0.45],[15.0,0.35],[15.2,0.42],[15.45,0.3],
[13.62,1.02],[13.68,0.78],[13.72,1.32],[13.78,0.9],[13.82,1.18],[13.88,0.62],[13.92,1.05],[13.98,0.85],[14.02,1.45],[14.08,0.7],[14.12,1.15],[14.18,0.58],[14.22,1.22],[14.26,0.85],[14.32,1.02],[14.36,0.65],[14.42,1.32],[14.46,0.95],[14.52,1.12],[14.56,0.5],[14.62,0.98],[14.66,0.78],[14.72,1.25],[14.76,0.95],[14.82,1.45],[14.86,0.72],[14.92,1.12],[14.98,0.85],[15.02,1.38],[15.08,0.95],[15.12,1.55],[13.5,1.0],[13.55,0.75],[14.25,1.6],[14.45,1.65],[14.05,1.75],[14.4,0.5],[14.6,0.4],[14.15,0.45],[13.95,1.6]
];
const ptsI = [
[0.03,1.75],[0.03,0.78],[0.032,0.65],[0.08,0.3],[0.095,0.93],[0.1,0.5],[0.125,1.63],[0.12,0.3],[0.14,1.05],[0.15,0.5],[0.16,1.35],[0.17,0.2],[0.18,2.43],[0.19,2.28],[0.205,3.0],[0.225,2.9],[0.27,3.3],[0.295,3.4],[0.32,3.27],[0.343,3.75],[0.35,3.0],[0.368,3.0],[0.375,2.8],[0.39,3.02],[0.415,2.95],[0.4,2.4],[0.505,0.52],[0.45,1.15],[0.43,1.45],[0.42,1.95],[0.11,0.72],[0.13,0.45],[0.155,0.9],[0.165,0.6],[0.175,1.15],[0.185,0.35],[0.195,1.0],[0.22,2.05],[0.23,2.1],[0.25,2.3],[0.26,2.2],[0.285,2.75],[0.29,2.45],[0.3,2.45],[0.31,2.55],[0.33,2.4],[0.34,2.6],[0.355,2.3],[0.36,2.55],[0.44,0.8],[0.435,0.5],[0.42,0.85],
[0.2,1.6],[0.21,1.75],[0.22,1.55],[0.23,1.9],[0.24,1.65],[0.25,1.8],[0.26,1.55],[0.27,1.95],[0.28,1.7],[0.29,1.6],[0.3,1.85],[0.31,1.65],[0.32,1.9],[0.33,1.55],[0.34,1.75],[0.35,1.6],[0.36,1.85],[0.37,1.7],[0.38,1.55],[0.39,1.8],[0.4,1.65],[0.41,1.5],[0.265,2.05],[0.325,2.1],
[0.19,1.2],[0.2,1.35],[0.21,1.1],[0.215,1.4],[0.22,1.25],[0.23,1.05],[0.235,1.45],[0.24,1.2],[0.25,1.35],[0.255,1.1],[0.26,1.4],[0.265,1.25],[0.27,1.05],[0.275,1.3],[0.28,1.45],[0.285,1.15],[0.29,1.35],[0.295,1.05],[0.3,1.25],[0.305,1.42],[0.31,1.15],[0.315,1.3],[0.32,1.05],[0.325,1.4],[0.33,1.2],[0.335,1.35],[0.34,1.1],[0.345,1.45],[0.35,1.25],[0.355,1.05],[0.36,1.35],[0.365,1.2],[0.37,1.45],[0.375,1.1],[0.38,1.3],[0.39,1.2],[0.4,1.4],[0.41,1.1],[0.42,1.3],[0.27,1.2],[0.31,1.25],[0.34,1.3],
[0.18,0.7],[0.19,0.85],[0.2,0.6],[0.21,0.9],[0.215,0.72],[0.22,0.55],[0.23,0.82],[0.235,0.65],[0.24,0.92],[0.245,0.58],[0.25,0.78],[0.255,0.95],[0.26,0.68],[0.265,0.85],[0.27,0.55],[0.275,0.75],[0.28,0.9],[0.285,0.62],[0.29,0.82],[0.295,0.7],[0.3,0.95],[0.305,0.58],[0.31,0.78],[0.315,0.88],[0.32,0.65],[0.325,0.82],[0.33,0.55],[0.335,0.72],[0.34,0.9],[0.345,0.62],[0.35,0.8],[0.355,0.68],[0.36,0.92],[0.365,0.58],[0.37,0.75],[0.375,0.88],[0.38,0.65],[0.39,0.82],[0.4,0.6],[0.41,0.75],[0.3,0.7],[0.32,0.75],[0.28,0.65],
[0.2,0.4],[0.22,0.3],[0.24,0.42],[0.25,0.2],[0.27,0.35],[0.29,0.45],[0.3,0.25],[0.31,0.4],[0.33,0.3],[0.35,0.42],[0.37,0.28],[0.4,0.35],[0.215,0.15],
[0.222,1.02],[0.228,0.78],[0.238,1.32],[0.244,0.9],[0.252,1.18],[0.258,0.62],[0.262,1.05],[0.268,0.85],[0.272,1.45],[0.278,0.7],[0.282,1.15],[0.288,0.58],[0.292,1.22],[0.296,0.85],[0.302,1.02],[0.306,0.65],[0.312,1.32],[0.316,0.95],[0.322,1.12],[0.326,0.5],[0.332,0.98],[0.336,0.78],[0.342,1.25],[0.346,0.95],[0.352,1.45],[0.356,0.72],[0.362,1.12],[0.368,0.85],[0.372,1.38],[0.378,0.95],[0.382,1.55],[0.386,0.75],[0.392,1.05],[0.396,1.35],[0.4,0.85],[0.27,1.6],[0.3,1.65],[0.34,1.75],[0.29,0.5],[0.33,0.45],[0.36,0.5],[0.25,0.45]
];
// fitted regression lines (endpoints)
const fitA = [[8,2.03],[20.65,5.12]];
const fitB = [[15.14,1.6],[18.45,4.62]];
const fitC = [[0.493,2.06],[1.2,4.9]];
const fitD = [[4.0,1.12],[10.0,1.93]];
const fitE = [[13.47,1.61],[17.0,1.41]];
const fitF = [[0.258,1.10],[0.728,2.13]];
const fitG = [[0.19,0.65],[6.48,1.38]];
const fitH = [[11.9,1.18],[18.65,0.93]];
const fitI = [[0,0.60],[0.53,1.48]];
const panelLabels = ['(A)','(B)','(C)','(D)','(E)','(F)','(G)','(H)','(I)'];
const xTitles = ['F index','FF index','F-FF ratio','F index','FF index','F-FF ratio','F index','FF index','F-FF ratio'];
const yTitleText = 'HOMA-IR';
const rVals = ['0.33','0.31','0.30','0.20','-0.041','0.21','0.19','-0.044','0.19'];
const pVals = ['<0.0001','<0.0001','<0.0001','<0.0001','=0.2726','<0.0001','<0.0001','=0.3274','<0.0001'];
const xRanges = [[8,20.65],[14.98,18.47],[0.493,1.2],[3.95,10.03],[13.47,17.0],[0.258,0.728],[0.19,6.48],[11.9,18.65],[-0.003,0.53]];
const yRanges = [[-0.16,9.34],[-0.16,9.34],[-0.16,9.28],[-0.08,6.19],[-0.03,6.15],[-0.08,6.2],[-0.06,3.9],[-0.06,3.9],[-0.06,3.9]];
const xDticks = [2,1,0.1,1,1,0.1,1,1,0.1];
const yDticks = [2,2,2,1,1,1,1,1,1];

// ---------- LAYOUT GEOMETRY (pixels) ----------
const W = 781, H = 541;
const boxes = [[42.7,15,219,148],[313.3,15,493,148],[588.3,15,765.7,148],
               [43.3,193.3,217.3,327.3],[309.3,195,492,333.3],[591.7,193.3,765,330.7],
               [46.7,376.7,220,507.7],[316.7,376.7,491.7,507.7],[591.7,376.7,768.3,507.7]];
const labelPos = [[15,14],[282,13],[553,14],[15,195],[282,195],[555,196],[15,375],[282,375],[555,375]];
const yTitlePos = [[17,81],[283,81],[557,81],[16,259],[282,259],[558,259],[17,437],[282,437],[558,437]];
const xTitlePos = [[129.5,173],[405,173],[682,173],[129.5,353],[404.5,356],[680,353],[129.5,533],[404.5,533],[682,533]];
const rPos = [[168,117],[340,22.5],[713,117.5],[55,217],[340,223],[602,212.5],[55,387],[433,387.5],[602,387]];
const pPos = [[168,131.5],[340,37],[713,132.5],[55,233],[340,242],[602,228],[55,403],[433,403],[602,403]];
const markerSizes = [4.3,4.3,4.3,4.6,4.6,4.6,4.5,4.5,4.5];

const fx = p => p / W, fy = p => 1 - p / H;
const serif = 'Liberation Serif, Times New Roman, serif';
const allPts = [ptsA,ptsB,ptsC,ptsD,ptsE,ptsF,ptsG,ptsH,ptsI];
const allFits = [fitA,fitB,fitC,fitD,fitE,fitF,fitG,fitH,fitI];

const traces = [], shapes = [], annotations = [];
const layout = {
  width: W, height: H, margin: {l:0,r:0,t:0,b:0},
  paper_bgcolor: '#ffffff', plot_bgcolor: '#ffffff', showlegend: false
};

for (let i = 0; i < 9; i++) {
  const n = i + 1, sx = n === 1 ? '' : String(n);
  const [x0,y0,x1,y1] = boxes[i];
  const axBase = {
    showline: true, mirror: true, linecolor: '#c2c2c2', linewidth: 1,
    showgrid: false, zeroline: false, ticks: 'outside', ticklen: 2.5, tickcolor: '#9a9a9a',
    tickfont: {family: 'Liberation Sans, Arial, sans-serif', size: 8, color: '#707070'},
    tick0: 0, fixedrange: true
  };
  layout['xaxis' + sx] = Object.assign({}, axBase, {
    domain: [fx(x0), fx(x1)], range: xRanges[i], dtick: xDticks[i], anchor: 'y' + sx,
    minor: {ticks: 'outside', ticklen: 1.5, tickcolor: '#b0b0b0', dtick: xDticks[i] / 4}
  });
  layout['yaxis' + sx] = Object.assign({}, axBase, {
    domain: [fy(y1), fy(y0)], range: yRanges[i], dtick: yDticks[i], anchor: 'x' + sx,
    minor: {ticks: 'outside', ticklen: 1.5, tickcolor: '#b0b0b0', dtick: yDticks[i] / 2}
  });
  shapes.push({type:'rect', xref:'paper', yref:'paper', layer:'below',
    x0: fx(x0 - 13), x1: fx(x1 + 9), y0: fy(y1 + 14), y1: fy(y0 - 6),
    fillcolor: '#f2f2f2', line: {width: 0}});
  shapes.push({type:'rect', xref:'paper', yref:'paper', layer:'below',
    x0: fx(x0), x1: fx(x1), y0: fy(y1), y1: fy(y0),
    fillcolor: '#ffffff', line: {width: 0}});

  const pts = allPts[i];
  traces.push({type:'scatter', mode:'markers', xaxis:'x' + sx, yaxis:'y' + sx,
    x: pts.map(p => p[0]), y: pts.map(p => p[1]),
    marker: {color: '#000000', size: markerSizes[i]}, hoverinfo: 'x+y'});
  const fit = allFits[i];
  traces.push({type:'scatter', mode:'lines', xaxis:'x' + sx, yaxis:'y' + sx,
    x: fit.map(p => p[0]), y: fit.map(p => p[1]),
    line: {color: '#d36b76', width: 1.4}, hoverinfo: 'skip'});

  annotations.push({xref:'paper', yref:'paper', x: fx(labelPos[i][0]), y: fy(labelPos[i][1]),
    text: '<b>' + panelLabels[i] + '</b>', showarrow: false, xanchor: 'center', yanchor: 'middle',
    font: {family: serif, size: 14, color: '#000'}});
  annotations.push({xref:'paper', yref:'paper', x: fx(yTitlePos[i][0]), y: fy(yTitlePos[i][1]),
    text: '<b>' + yTitleText + '</b>', showarrow: false, textangle: -90, xanchor: 'center', yanchor: 'middle',
    font: {family: serif, size: 15, color: '#000'}});
  annotations.push({xref:'paper', yref:'paper', x: fx(xTitlePos[i][0]), y: fy(xTitlePos[i][1]),
    text: '<b>' + xTitles[i] + '</b>', showarrow: false, xanchor: 'center', yanchor: 'middle',
    font: {family: serif, size: 14.5, color: '#000'}});
  annotations.push({xref:'paper', yref:'paper', x: fx(rPos[i][0]), y: fy(rPos[i][1]),
    text: '<b><i>r</i>=' + rVals[i] + '</b>', showarrow: false, xanchor: 'left', yanchor: 'middle',
    font: {family: serif, size: 13, color: '#000'}});
  annotations.push({xref:'paper', yref:'paper', x: fx(pPos[i][0]), y: fy(pPos[i][1]),
    text: '<b><i>p</i>' + pVals[i].replace('<', '&lt;') + '</b>', showarrow: false, xanchor: 'left', yanchor: 'middle',
    font: {family: serif, size: 13, color: '#000'}});
}
layout.shapes = shapes;
layout.annotations = annotations;
Plotly.newPlot('chart', traces, layout, {displayModeBar: false, staticPlot: true});
</script>
</body></html>
